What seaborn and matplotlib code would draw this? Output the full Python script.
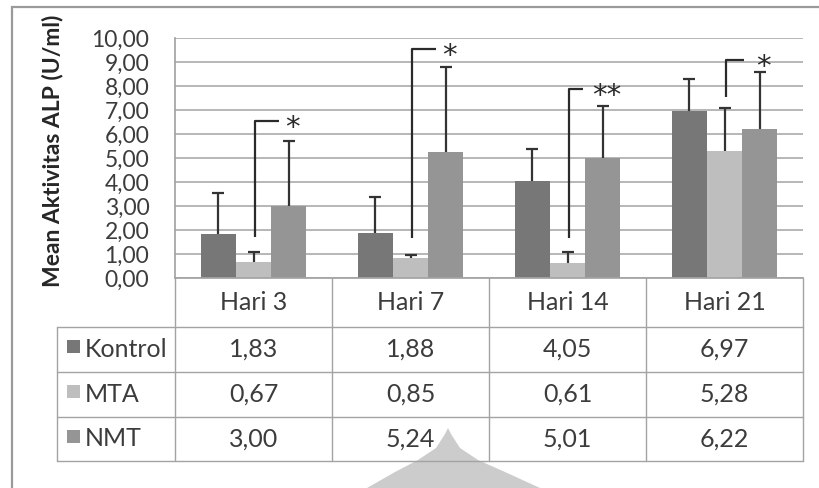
import numpy as np
import pandas as pd
import matplotlib
matplotlib.use("Agg")
import matplotlib.pyplot as plt
import matplotlib.transforms as mtransforms
from matplotlib.patches import Rectangle, Polygon
import seaborn as sns

# data
hari = ["Hari 3", "Hari 7", "Hari 14", "Hari 21"]
kelompok = ["Kontrol", "MTA", "NMT"]
kontrol = [1.83, 1.88, 4.05, 6.97]
mta = [0.67, 0.85, 0.61, 5.28]
nmt = [3.00, 5.24, 5.01, 6.22]
sd_kontrol = [1.72, 1.51, 1.31, 1.32]
sd_mta = [0.43, 0.11, 0.49, 1.79]
sd_nmt = [2.72, 3.54, 2.16, 2.35]

# significance brackets (MTA vs NMT)
brk_bawah = [1.70, 1.67, 1.67, 7.54]
brk_atas = [6.54, 9.54, 7.88, 9.08]
brk_lengan = [0.15, 0.155, 0.09, 0.115]
bintang = ["*", "*", "**", "*"]

warna = {"Kontrol": "#777777", "MTA": "#bebebe", "NMT": "#959595"}
teks = "#3c3c3c"
garis = "#a3a3a3"

df = pd.DataFrame({
    "Hari": hari * 3,
    "Kelompok": [k for k in kelompok for _ in hari],
    "Nilai": kontrol + mta + nmt,
})

sns.set_theme(style="white")
plt.rcParams["font.family"] = ["Lato", "DejaVu Sans"]

W, H = 819, 488
fig = plt.figure(figsize=(W / 100, H / 100), dpi=100)
ax = fig.add_axes([175 / W, 1 - 278 / H, 628 / W, 240 / H])
ax.set_facecolor("none")

sns.barplot(data=df, x="Hari", y="Nilai", hue="Kelompok", hue_order=kelompok,
            palette=warna, width=0.67, errorbar=None, saturation=1,
            legend=False, ax=ax, zorder=2)
for bar in ax.patches:
    bar.set_edgecolor("none")

# upper-only error bars
for cont, mean, sd in zip(ax.containers, [kontrol, mta, nmt], [sd_kontrol, sd_mta, sd_nmt]):
    xs = [p.get_x() + p.get_width() / 2 for p in cont]
    eb = ax.errorbar(xs, mean, yerr=[np.zeros(len(sd)), sd], fmt="none",
                     ecolor="#333333", elinewidth=1.6, capsize=4, capthick=1.6, zorder=3)
    eb[1][0].set_visible(False)

# brackets
mta_x = [p.get_x() + p.get_width() / 2 for p in ax.containers[1]]
for x, b, t, l, s in zip(mta_x, brk_bawah, brk_atas, brk_lengan, bintang):
    x = x + 0.01
    ax.plot([x, x, x + l], [b, t, t], color="#2a2a2a", lw=1.6, zorder=4,
            solid_capstyle="butt", clip_on=False)
    ax.text(x + 0.24, t - 0.62, s, ha="center", va="baseline", fontsize=21,
            family="DejaVu Sans", color="#2a2a2a", zorder=4)

ax.set_xlim(-0.5, 3.5)
ax.set_ylim(0, 10)
ax.set_yticks(np.arange(0, 10.01, 1))
ax.set_yticklabels([f"{v:.2f}".replace(".", ",") for v in np.arange(0, 10.01, 1)])
ax.yaxis.grid(True, color=garis, lw=1.1, zorder=0)
ax.tick_params(axis="y", length=6.5, width=1, color=garis, labelsize=16.5,
               labelcolor=teks, pad=12)
ax.set_xticks([])
ax.set_xlabel("")
ax.set_ylabel("Mean Aktivitas ALP (U/ml)", fontsize=16.5, fontweight="bold",
              color="#262626")
ax.yaxis.set_label_coords(-0.178, 0.53)
for s in ["top", "right"]:
    ax.spines[s].set_visible(False)
ax.spines["left"].set_color(garis)
ax.spines["bottom"].set_color(garis)

# data table below the axes
tr = mtransforms.blended_transform_factory(ax.transData, fig.transFigure)
fy = lambda y: 1 - y / H
baris = [278, 327, 372, 417, 461]
batas = [-0.5, 0.5, 1.5, 2.5, 3.5]
for b in batas:
    fig.add_artist(plt.Line2D([b, b], [fy(278), fy(461)], transform=tr, color=garis, lw=1))
for y in baris[1:]:
    fig.add_artist(plt.Line2D([57 / W, 803 / W], [fy(y), fy(y)], transform=fig.transFigure,
                              color=garis, lw=1))
fig.add_artist(plt.Line2D([57 / W, 57 / W], [fy(327), fy(461)], transform=fig.transFigure,
                          color=garis, lw=1))

for i, h in enumerate(hari):
    fig.text(i, fy(302.5), h, transform=tr, ha="center", va="center", fontsize=18, color=teks)

for r, (k, vals) in enumerate(zip(kelompok, [kontrol, mta, nmt])):
    yc = (baris[r + 1] + baris[r + 2]) / 2
    fig.add_artist(Rectangle((67 / W, fy(yc + 3.5)), 13 / W, 13 / H,
                             transform=fig.transFigure, color=warna[k], lw=0))
    fig.text(85 / W, fy(yc), k, ha="left", va="center", fontsize=18, color=teks)
    for i, v in enumerate(vals):
        fig.text(i, fy(yc), f"{v:.2f}".replace(".", ","), transform=tr,
                 ha="center", va="center", fontsize=18, color=teks)

# outer frame (cut off at right and bottom)
fig.add_artist(Rectangle((11.5 / W, -0.1), 1.2, fy(7) + 0.1, transform=fig.transFigure,
                         fill=False, edgecolor="#9a9a9a", lw=1.6))

# faint watermark at the bottom
wm = [(448, 428), (445, 434), (436, 448), (418, 460), (395, 472), (367, 488),
      (540, 488), (505, 472), (478, 460), (460, 448), (451, 434)]
fig.add_artist(Polygon([(x / W, fy(y)) for x, y in wm], closed=True,
                       transform=fig.transFigure, color="#cccccc", lw=0, zorder=0))

fig.savefig("out.png", dpi=100)
